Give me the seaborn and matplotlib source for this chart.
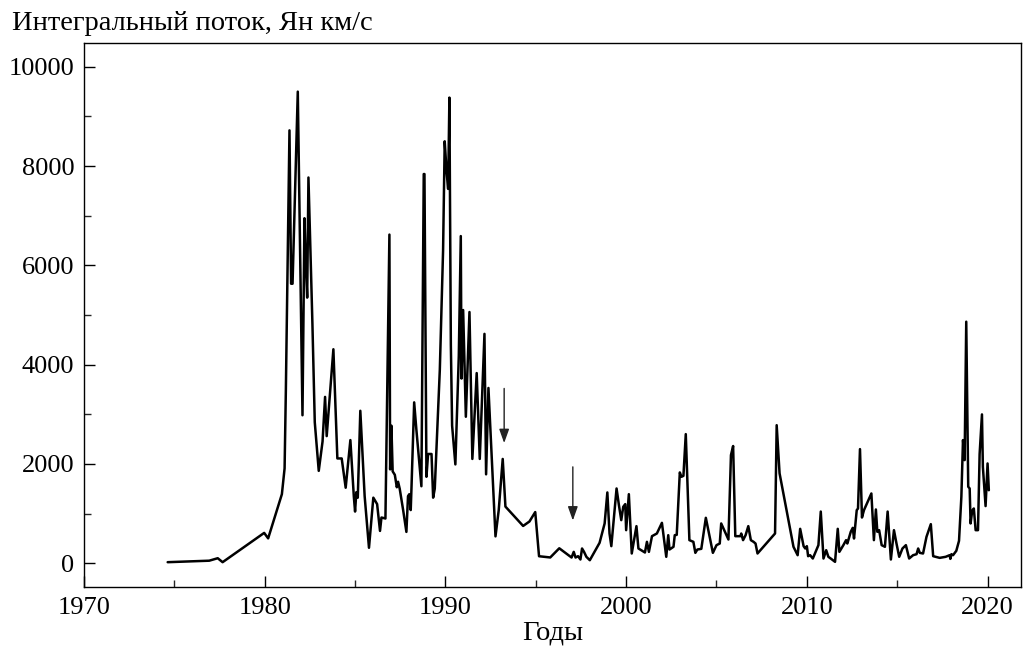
import matplotlib
matplotlib.use("Agg")
import matplotlib.pyplot as plt
from matplotlib.ticker import MultipleLocator
import seaborn as sns
import pandas as pd

years = [
    1974.63, 1976.93, 1977.40, 1977.67, 1979.97, 1980.19, 1980.95, 1981.10, 1981.17,
    1981.37, 1981.46, 1981.54, 1981.83, 1982.09, 1982.20, 1982.27, 1982.35, 1982.42,
    1982.64, 1982.77, 1982.99, 1983.20, 1983.34, 1983.43, 1983.80, 1984.02, 1984.26,
    1984.48, 1984.74, 1984.93, 1985.00, 1985.07, 1985.15, 1985.29, 1985.53, 1985.77,
    1986.01, 1986.22, 1986.38, 1986.46, 1986.68, 1986.90, 1986.94, 1987.01, 1987.08,
    1987.20, 1987.31, 1987.38, 1987.47, 1987.66, 1987.84, 1987.93, 1988.00, 1988.08,
    1988.12, 1988.27, 1988.39, 1988.67, 1988.80, 1988.84, 1988.95, 1989.04, 1989.23,
    1989.32, 1989.41, 1989.69, 1989.87, 1989.96, 1990.07, 1990.15, 1990.22, 1990.30,
    1990.37, 1990.55, 1990.74, 1990.85, 1990.89, 1990.98, 1991.13, 1991.33, 1991.49,
    1991.73, 1991.90, 1992.16, 1992.25, 1992.38, 1992.77, 1992.95, 1993.17, 1993.32,
    1994.30, 1994.65, 1994.97, 1995.18, 1995.80, 1996.30,
    1996.98, 1997.10, 1997.20, 1997.34, 1997.47, 1997.56, 1997.67, 1997.80, 1997.99,
    1998.53, 1998.81, 1998.96, 1999.08, 1999.18, 1999.47, 1999.60, 1999.73, 1999.84,
    1999.95, 2000.00, 2000.15, 2000.31, 2000.57, 2000.68, 2001.04, 2001.15, 2001.26,
    2001.43, 2001.70, 2001.98, 2002.22, 2002.33, 2002.40, 2002.62, 2002.69, 2002.80,
    2002.97, 2003.06, 2003.17, 2003.30, 2003.50, 2003.72, 2003.83, 2003.94, 2004.16,
    2004.41, 2004.80, 2005.00, 2005.18, 2005.26, 2005.51, 2005.66, 2005.80, 2005.92,
    2006.04, 2006.32, 2006.37, 2006.47, 2006.61, 2006.76, 2006.90, 2007.05, 2007.16,
    2007.27, 2008.24, 2008.33, 2008.49, 2009.26, 2009.49, 2009.63, 2009.82, 2009.91,
    2010.00, 2010.07, 2010.18, 2010.33, 2010.64, 2010.77, 2010.92, 2011.07, 2011.19,
    2011.32, 2011.56, 2011.71, 2011.80, 2012.02, 2012.17, 2012.24, 2012.43, 2012.54,
    2012.61, 2012.76, 2012.83, 2012.94, 2013.05, 2013.16, 2013.57, 2013.71, 2013.82,
    2013.90, 2014.00, 2014.14, 2014.32, 2014.47, 2014.65, 2014.82, 2014.96, 2015.11,
    2015.29, 2015.48, 2015.66, 2015.88, 2016.07, 2016.16, 2016.25, 2016.43, 2016.62,
    2016.86, 2016.99, 2017.35, 2017.68, 2017.90, 2017.94, 2018.00, 2018.09, 2018.27,
    2018.42, 2018.55, 2018.64, 2018.73, 2018.82, 2018.93, 2019.01, 2019.06, 2019.15,
    2019.24, 2019.34, 2019.47, 2019.56, 2019.69, 2019.74, 2019.89, 2020.00, 2020.07,
]

flux = [
    20, 50, 100, 20, 610, 500, 1390, 1910, 3480,
    8720, 5630, 5630, 9500, 2980, 6950, 6090, 5350, 7770,
    4820, 2840, 1860, 2450, 3350, 2560, 4310, 2110, 2110,
    1520, 2480, 1350, 1040, 1430, 1320, 3070, 1350, 310,
    1320, 1190, 650, 920, 900, 6620, 1890, 2770, 1850,
    1780, 1530, 1640, 1500, 1070, 630, 1350, 1390, 1070,
    1500, 3240, 2700, 1550, 7840, 7840, 1740, 2200, 2200,
    1320, 1500, 3900, 6300, 8500, 7860, 7540, 9380, 4400,
    2770, 1990, 4180, 6590, 3720, 5100, 2950, 5060, 2100,
    3830, 2100, 4620, 1790, 3530, 540, 1070, 2100, 1140,
    750, 840, 1030, 140, 115, 300,
    114, 228, 114, 141, 74, 296, 228, 128, 60,
    410, 800, 1425, 598, 343, 1505, 1170, 867, 1136,
    1190, 665, 1390, 195, 746, 296, 215, 430, 228,
    544, 598, 813, 128, 564, 275, 330, 564, 571,
    1828, 1740, 1760, 2600, 464, 430, 208, 275, 289,
    914, 208, 363, 396, 800, 598, 477, 2177, 2360,
    544, 544, 598, 464, 564, 746, 464, 430, 396,
    195, 598, 2780, 1810, 330, 161, 692, 343, 296,
    343, 141, 161, 94, 363, 1040, 94, 262, 128,
    94, 27, 692, 228, 363, 464, 396, 632, 712,
    497, 1068, 1102, 2298, 920, 1068, 1404, 464, 1082,
    632, 665, 363, 330, 1040, 74, 665, 396, 128,
    296, 363, 94, 161, 181, 296, 208, 195, 531,
    786, 141, 107, 128, 161, 87, 181, 161, 249,
    450, 1337, 2480, 2076, 4865, 1540, 1505, 800, 1055,
    1102, 665, 665, 2197, 2997, 1942, 1150, 2009, 1470,
]

arrow_years = [1993.25, 1997.05]
arrow_tops = [3520, 1940]
arrow_tips = [2420, 860]

title_text = "Интегральный поток, Ян км/с"
xlabel_text = "Годы"
xticks = [1970, 1980, 1990, 2000, 2010, 2020]
yticks = [0, 2000, 4000, 6000, 8000, 10000]

sns.set_theme(style="ticks")
plt.rcParams["font.family"] = ["Liberation Serif", "DejaVu Serif"]

df = pd.DataFrame({"year": years, "flux": flux})

fig = plt.figure(figsize=(10.27, 6.5), dpi=100)
ax = fig.add_axes([84 / 1027, 63 / 650, (1021 - 84) / 1027, (587 - 43) / 650])

sns.lineplot(data=df, x="year", y="flux", ax=ax, color="black", linewidth=1.8,
             sort=False, estimator=None)

for xa, yt, yb in zip(arrow_years, arrow_tops, arrow_tips):
    ax.annotate("", xy=(xa, yb), xytext=(xa, yt),
                arrowprops=dict(arrowstyle="-|>,head_length=0.7,head_width=0.25",
                                color="#222222", lw=1.0, shrinkA=0, shrinkB=0))

ax.set_xlim(1970, 2021.85)
ax.set_ylim(-480, 10480)
ax.set_xticks(xticks)
ax.set_yticks(yticks)
ax.xaxis.set_minor_locator(MultipleLocator(5))
ax.yaxis.set_minor_locator(MultipleLocator(1000))
ax.tick_params(axis="both", which="major", direction="in", length=8, width=1,
               labelsize=19, colors="black", pad=7)
ax.tick_params(axis="both", which="minor", direction="in", length=5, width=1)
ax.tick_params(top=False, right=False, which="both")
for s in ax.spines.values():
    s.set_visible(True)
    s.set_color("black")
    s.set_linewidth(1.0)

ax.set_xlabel(xlabel_text, fontsize=20.5, color="black", labelpad=1)
ax.set_ylabel("")
fig.text(12 / 1027, 1 - 11 / 650, title_text, fontsize=20.5, ha="left", va="top", color="black")

fig.savefig("out.png", dpi=100, facecolor="white")
